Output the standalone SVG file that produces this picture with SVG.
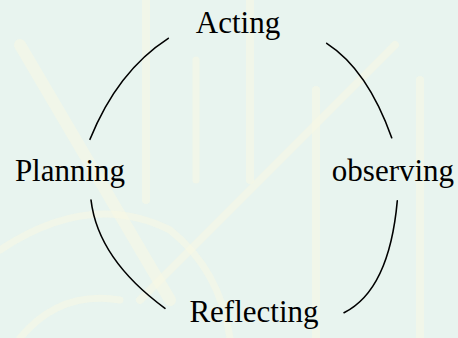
<svg xmlns="http://www.w3.org/2000/svg" width="458" height="338" viewBox="0 0 458 338">
<style>
.lbl{font-family:"Liberation Serif","Times New Roman",serif;font-size:31px;fill:#000;text-anchor:middle}
.arc{fill:none;stroke:#000;stroke-width:1.6;stroke-linecap:round}
.wm{fill:none;stroke:#f7f7e4;stroke-linecap:round;opacity:0.55}
</style>
<rect x="0" y="0" width="458" height="338" fill="#e8f4ef"/>
<g id="watermark">
<path class="wm" stroke-width="12" d="M20 45 L170 300"/>
<path class="wm" stroke-width="8" d="M146 0 L146 200"/>
<path class="wm" stroke-width="7" d="M196 60 L196 180"/>
<path class="wm" stroke-width="8" d="M250 0 L250 180"/>
<path class="wm" stroke-width="8" d="M140 300 L395 45"/>
<path class="wm" stroke-width="8" d="M316 90 L316 338"/>
<path class="wm" stroke-width="8" d="M420 80 L420 338"/>
<path class="wm" stroke-width="7" d="M0 250 Q90 190 170 230 Q220 270 230 338"/>
<path class="wm" stroke-width="7" d="M20 338 Q60 290 120 300"/>
</g>
<g id="connectors">
<path class="arc" d="M168.3 38.3 Q117.4 71.2 90 139.3"/>
<path class="arc" d="M326.7 43.3 Q367.4 69.5 391.7 137.7"/>
<path class="arc" d="M91 200 Q98 259.2 165 308.3"/>
<path class="arc" d="M397.3 200.7 Q389.3 289.9 344 312.7"/>
</g>
<g id="acting"><text class="lbl" x="238" y="33">Acting</text></g>
<g id="planning"><text class="lbl" x="70" y="181">Planning</text></g>
<g id="observing"><text class="lbl" x="393" y="181">observing</text></g>
<g id="reflecting"><text class="lbl" x="254" y="322">Reflecting</text></g>
</svg>
